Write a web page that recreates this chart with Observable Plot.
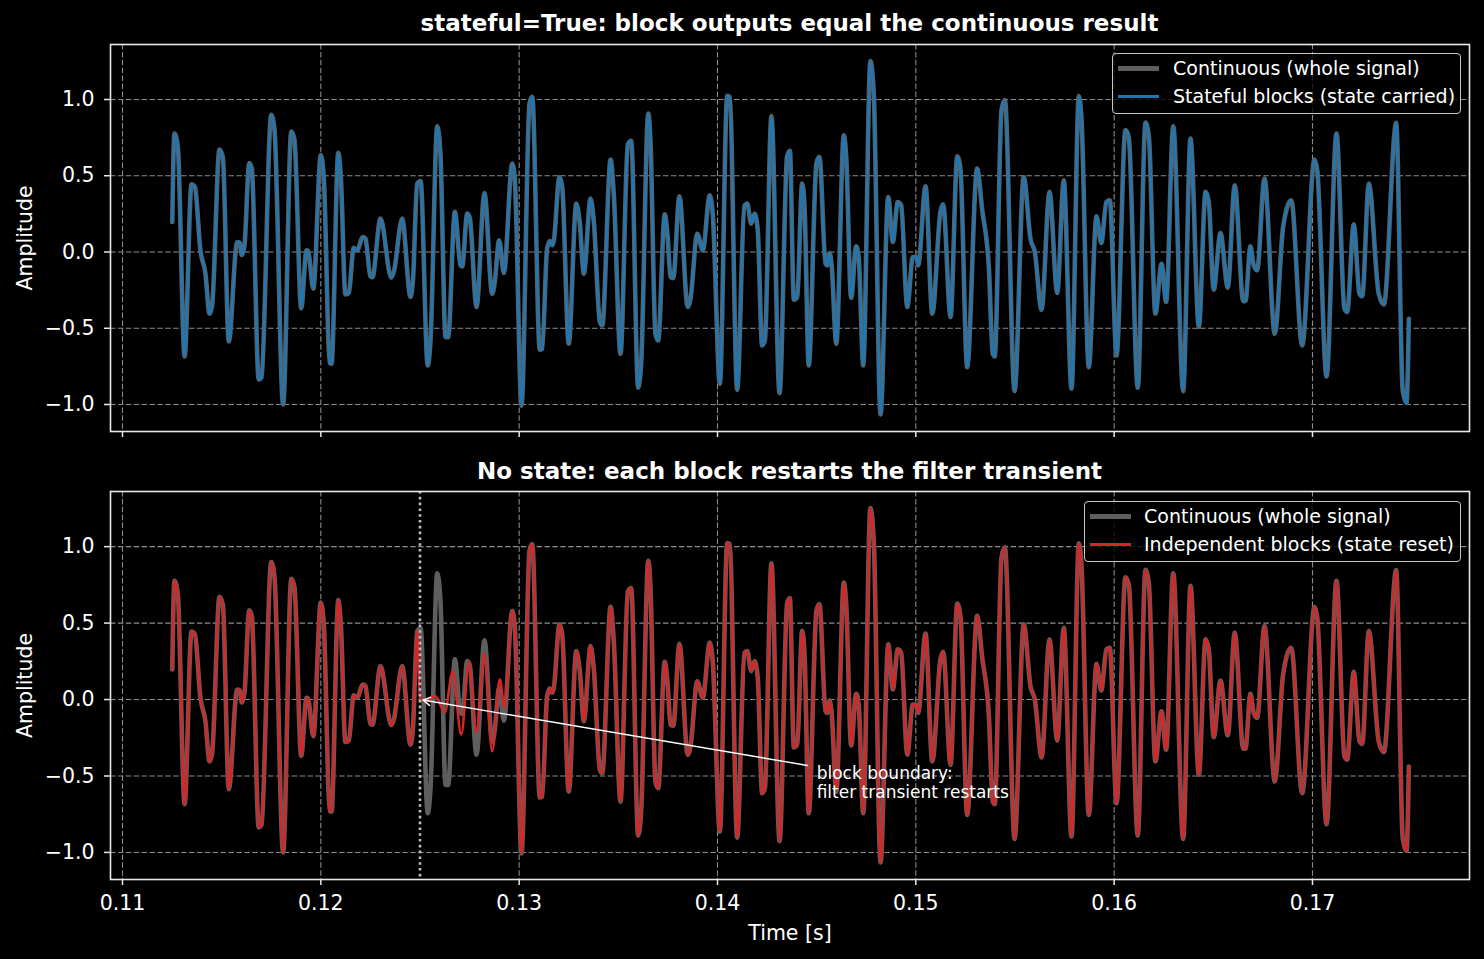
<!DOCTYPE html>
<html>
<head>
<meta charset="utf-8">
<script src="https://cdn.jsdelivr.net/npm/d3@7"></script>
<script src="https://cdn.jsdelivr.net/npm/@observablehq/plot@0.6"></script>
<style>
html,body{margin:0;padding:0;background:#000;overflow:hidden}
#fig{position:relative;width:1484px;height:959px;background:#000;font-family:"DejaVu Sans",sans-serif;color:#fff;overflow:hidden}
#fig svg{position:absolute;left:0}
.title{position:absolute;left:110px;width:1359px;text-align:center;font-weight:bold;font-size:23px;line-height:23px;white-space:nowrap}
.legend{position:absolute;border:1.5px solid #c8c8c8;border-radius:4px;background:rgba(0,0,0,0.8);box-sizing:border-box}
.swatch{position:absolute}
.lt{position:absolute;font-size:19px;line-height:19px;white-space:nowrap;color:#fff}
</style>
</head>
<body>
<div id="fig"></div>
<script>
// ---- data (time in ms, amplitude) ----
const timeMs = [
112.51,112.62,112.79,113.13,113.48,113.65,113.93,114.18,114.39,114.52,
114.89,115.06,115.36,115.78,115.91,116.02,116.15,116.39,116.52,116.87,
117.01,117.50,117.66,118.10,118.51,118.67,119.01,119.28,119.36,119.62,
120.00,120.15,120.45,120.54,120.88,121.01,121.24,121.41,121.66,121.83,
122.12,122.25,122.50,122.60,123.01,123.55,123.68,124.10,124.52,124.64,
124.86,125.03,125.39,125.53,125.87,126.03,126.29,126.42,126.76,127.04,
127.13,127.38,127.51,127.85,128.25,128.64,128.76,128.99,129.23,129.65,
129.78,130.12,130.52,130.66,131.04,131.16,131.41,131.54,131.67,131.75,
132.03,132.17,132.50,132.88,133.06,133.26,133.60,133.76,134.07,134.19,
134.61,134.77,135.11,135.48,135.65,136.00,136.15,136.51,136.62,136.87,
137.01,137.34,137.49,137.63,137.77,138.08,138.50,138.64,138.98,139.26,
139.61,139.76,140.12,140.49,140.62,140.99,141.36,141.50,141.70,141.87,
142.03,142.25,142.39,142.72,143.13,143.51,143.65,143.85,144.02,144.27,
144.39,144.60,144.99,145.14,145.45,145.53,145.65,145.75,145.99,146.37,
146.49,146.74,146.99,147.12,147.35,147.71,147.88,148.22,148.61,148.84,
149.09,149.26,149.57,149.85,150.02,150.12,150.49,150.83,151.24,151.38,
151.75,152.09,152.25,152.59,153.09,153.35,153.68,153.88,153.98,154.32,
154.49,154.98,155.44,155.78,156.00,156.34,156.74,157.13,157.46,157.85,
158.22,158.35,158.72,159.11,159.35,159.61,159.78,160.12,160.57,160.74,
161.19,161.58,161.75,162.08,162.39,162.62,162.98,163.48,163.85,164.27,
164.61,164.77,165.02,165.36,165.73,166.08,166.51,166.62,166.87,167.04,
167.21,167.58,168.10,168.52,168.93,169.48,170.10,170.24,170.71,171.21,
171.61,171.75,172.08,172.37,172.51,172.84,173.34,173.60,174.22,174.55,
174.74,174.86
];
const amplitude = [
0.197,0.777,0.69,-0.685,0.444,0.427,0.01,-0.14,-0.405,-0.35,
0.672,0.62,-0.586,0.066,0.06,-0.02,0.044,0.584,0.547,-0.836,
-0.82,0.9,0.81,-1.0,0.79,0.737,-0.368,0.011,0.007,-0.24,
0.635,0.49,-0.729,-0.733,0.65,0.49,-0.278,-0.27,0.028,0.011,
0.098,0.088,-0.16,-0.165,0.219,-0.168,-0.131,0.219,-0.295,-0.197,
0.449,0.466,-0.744,-0.58,0.825,0.645,-0.558,-0.558,0.263,-0.088,
-0.094,0.252,0.225,-0.361,0.387,-0.274,-0.208,0.077,-0.138,0.58,
0.481,-1.007,0.974,1.017,-0.641,-0.635,0.022,0.072,0.044,0.077,
0.492,0.427,-0.602,0.317,0.186,-0.142,0.35,0.208,-0.46,-0.481,
0.606,0.383,-0.667,0.707,0.729,-0.89,-0.733,0.908,0.733,-0.536,
-0.58,0.247,0.098,-0.164,-0.171,0.365,-0.361,-0.306,0.12,0.011,
0.372,0.252,-0.864,1.024,1.017,-0.904,0.306,0.317,0.186,0.252,
0.142,-0.613,-0.58,0.891,-0.926,0.628,0.663,-0.313,-0.295,0.449,
0.295,-0.744,0.584,0.624,-0.077,-0.088,-0.007,-0.077,-0.602,0.766,
0.624,-0.3,0.037,-0.033,-0.744,1.252,1.04,-1.066,0.361,0.066,
0.328,0.306,-0.361,-0.033,-0.033,-0.088,0.431,-0.405,0.263,0.313,
-0.427,0.628,0.547,-0.755,0.547,0.273,-0.098,-0.667,-0.685,0.93,
0.996,-0.912,0.492,0.088,0.0,-0.379,0.394,-0.269,0.47,-0.897,
1.022,0.886,-0.755,0.234,0.059,0.328,0.339,-0.678,0.799,0.75,
-0.89,0.849,0.759,-0.405,-0.077,-0.328,0.825,-0.912,0.744,-0.492,
0.394,0.328,-0.247,0.125,-0.234,0.438,-0.322,-0.322,0.037,-0.088,
-0.12,0.481,-0.536,0.164,0.339,-0.613,0.606,0.536,-0.816,0.777,
-0.372,-0.394,0.182,-0.274,-0.29,0.449,-0.274,-0.344,0.847,-0.908,
-0.991,-0.438
];
// independent blocks: filter transient after the block boundary (differs from continuous)
const transientTimeMs = [125.00,125.28,125.78,126.25,126.65,127.08,127.46,127.85,128.25,128.64,129.02,129.26];
const transientAmplitude = [0.0,-0.007,0.022,-0.083,0.185,-0.23,0.244,-0.213,0.3,-0.338,0.13,-0.05];
const blockBoundaryMs = 125.0;
const transientEndMs = 129.5;

const xTicks = [0.11,0.12,0.13,0.14,0.15,0.16,0.17];
const yTicks = [-1.0,-0.5,0.0,0.5,1.0];

const titles = ["stateful=True: block outputs equal the continuous result",
                "No state: each block restarts the filter transient"];
const legendTop = ["Continuous (whole signal)", "Stateful blocks (state carried)"];
const legendBottom = ["Continuous (whole signal)", "Independent blocks (state reset)"];
const annotationText = "block boundary:\nfilter transient restarts";

// ---- build series ----
const continuous = timeMs.map((t, i) => ({t: t / 1000, v: amplitude[i]}));
const stateful = continuous;
const independent = [
  ...continuous.filter(d => d.t * 1000 < blockBoundaryMs),
  ...transientTimeMs.map((t, i) => ({t: t / 1000, v: transientAmplitude[i]})),
  ...continuous.filter(d => d.t * 1000 > transientEndMs)
];

const GRAY = "#5e5e5e", BLUE = "#1f77b4", RED = "#d62728";
const xDomain = [0.109395, 0.177917];
const yDomain = [-1.177, 1.3607];

function panel({height, marginTop, marginBottom, lines, extras = [], showTickLabels}) {
  const gridStyle = {stroke: "#8c8c8c", strokeOpacity: 1, strokeWidth: 1.1, strokeDasharray: "5.5,2.4"};
  return Plot.plot({
    width: 1484, height, marginLeft: 110, marginRight: 15, marginTop, marginBottom,
    style: {background: "transparent", color: "white", fontFamily: "'DejaVu Sans', sans-serif", fontSize: "20.5px"},
    x: {domain: xDomain},
    y: {domain: yDomain},
    marks: [
      Plot.gridX(xTicks, gridStyle),
      Plot.gridY(yTicks, gridStyle),
      ...lines,
      ...extras,
      Plot.frame({stroke: "#e8e8e8", strokeWidth: 1.6}),
      Plot.axisX(xTicks, {
        tickSize: 6, tickPadding: 10, strokeWidth: 1.5, stroke: "#e8e8e8",
        tickFormat: showTickLabels ? d3.format(".2f") : () => "",
        label: showTickLabels ? "Time [s]" : null, labelAnchor: "center", labelArrow: "none", labelOffset: 60
      }),
      Plot.axisY(yTicks, {
        tickSize: 6, tickPadding: 10, strokeWidth: 1.5, stroke: "#e8e8e8", tickFormat: d3.format(".1f"),
        label: "Amplitude", labelAnchor: "center", labelArrow: "none", labelOffset: 93
      })
    ]
  });
}

const topPlot = panel({
  height: 448, marginTop: 44, marginBottom: 17, showTickLabels: false,
  lines: [
    Plot.line(continuous, {x: "t", y: "v", stroke: GRAY, strokeWidth: 4.6, curve: "monotone-x"}),
    Plot.line(stateful, {x: "t", y: "v", stroke: BLUE, strokeWidth: 2.6, curve: "monotone-x"})
  ]
});

const bottomPlot = panel({
  height: 511, marginTop: 43, marginBottom: 80, showTickLabels: true,
  lines: [
    Plot.line(continuous, {x: "t", y: "v", stroke: GRAY, strokeWidth: 4.6, curve: "monotone-x"}),
    Plot.line(independent, {x: "t", y: "v", stroke: RED, strokeWidth: 2.6, curve: "monotone-x"})
  ],
  extras: [
    Plot.ruleX([blockBoundaryMs / 1000], {stroke: "#bdbdbd", strokeWidth: 2.6, strokeDasharray: "2.6,3.2"}),
    Plot.arrow([0], {x1: 0.14454, y1: -0.431, x2: blockBoundaryMs / 1000, y2: 0, stroke: "white", strokeWidth: 1.4, headLength: 9, insetEnd: 3, bend: 0}),
    Plot.text([annotationText], {x: 0.145, y: -0.541, text: d => d, textAnchor: "start", lineAnchor: "middle", fill: "white", fontSize: 17, lineHeight: 1.15})
  ]
});

const fig = document.getElementById("fig");
topPlot.style.top = "0px";
bottomPlot.style.top = "448px";
fig.appendChild(topPlot);
fig.appendChild(bottomPlot);

function addTitle(text, centerY) {
  const d = document.createElement("div");
  d.className = "title";
  d.textContent = text;
  d.style.top = (centerY - 11) + "px";
  fig.appendChild(d);
}
addTitle(titles[0], 23);
addTitle(titles[1], 471);

function addLegend(box, rows, labels, colors, widths) {
  const b = document.createElement("div");
  b.className = "legend";
  Object.assign(b.style, {left: box.left + "px", top: box.top + "px", width: box.width + "px", height: box.height + "px"});
  fig.appendChild(b);
  labels.forEach((lab, i) => {
    const s = document.createElement("div");
    s.className = "swatch";
    Object.assign(s.style, {left: box.lineX + "px", width: "41px", top: (rows[i] - widths[i] / 2) + "px", height: widths[i] + "px", background: colors[i]});
    fig.appendChild(s);
    const t = document.createElement("div");
    t.className = "lt";
    t.textContent = lab;
    Object.assign(t.style, {left: box.textX + "px", top: (rows[i] - 9.5) + "px"});
    fig.appendChild(t);
  });
}
addLegend({left: 1112, top: 53, width: 349, height: 61, lineX: 1118, textX: 1173}, [68.3, 96.7], legendTop, [GRAY, BLUE], [4.6, 2.6]);
addLegend({left: 1084, top: 501, width: 377, height: 61, lineX: 1090, textX: 1144}, [516.3, 544.7], legendBottom, [GRAY, RED], [4.6, 2.6]);
</script>
</body>
</html>
